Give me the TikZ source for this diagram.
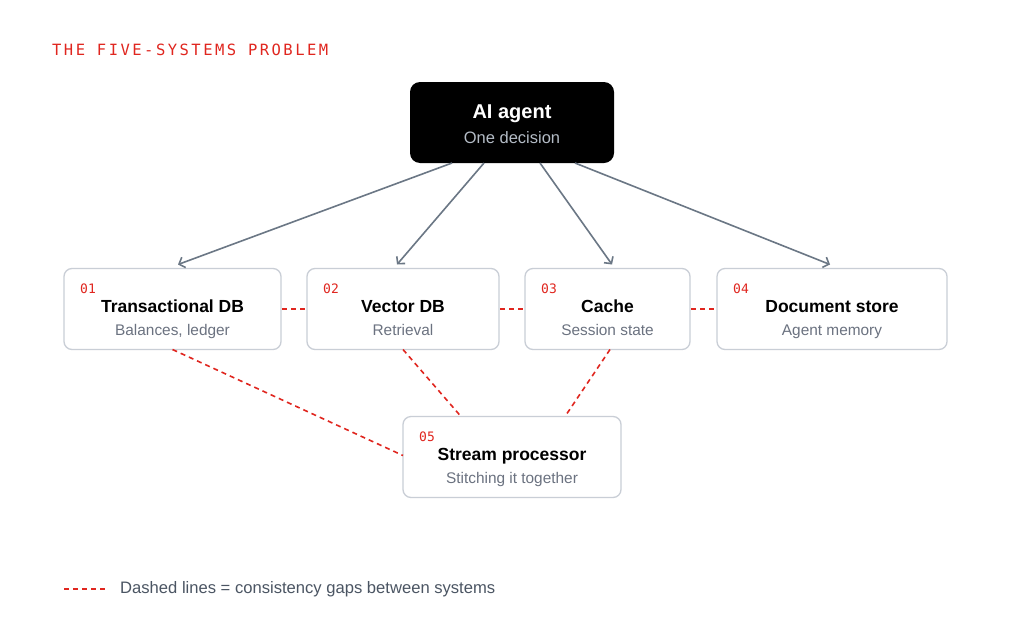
\documentclass[tikz,border=0pt]{standalone}
\usepackage{fontspec}
\setmainfont{Liberation Sans}
\newfontfamily\monofont{DejaVu Sans Mono}
\newfontfamily\titlemono[LetterSpace=16]{DejaVu Sans Mono}
\usetikzlibrary{arrows.meta,positioning}
\definecolor{gapred}{HTML}{E0261F}
\definecolor{muted}{HTML}{6B7280}
\definecolor{edge}{HTML}{C9CED6}
\definecolor{arrowgray}{HTML}{6B7785}
\definecolor{legendtxt}{HTML}{4B5563}
\definecolor{agenttxt}{HTML}{B4BCC6}

\begin{document}
\begin{tikzpicture}[
		x=1pt, y=1pt,
		node distance=26pt,
		sysbox/.style={rectangle, rounded corners=8pt, draw=edge, line width=1.3pt,
				fill=white, minimum height=81pt, inner sep=0pt, outer sep=0pt},
		agentbox/.style={rectangle, rounded corners=10pt, fill=black,
				minimum width=204pt, minimum height=81pt, inner sep=0pt, outer sep=0pt},
		ttl/.style={anchor=base, inner sep=0pt, font=\fontsize{17.5}{17.5}\selectfont\bfseries},
		subttl/.style={anchor=base, inner sep=0pt, text=muted, font=\fontsize{15.4}{15.4}\selectfont},
		numlbl/.style={anchor=west, inner sep=0pt, text=gapred,
				font=\monofont\fontsize{13}{13}\selectfont},
		arr/.style={-{Straight Barb[length=5pt, width=11pt]}, line width=1.6pt, arrowgray},
		gap/.style={gapred, line width=1.6pt, dash pattern=on 5pt off 4pt},
		]

		\useasboundingbox[fill=white] (0,0) rectangle (1024,-640);

		\node[anchor=west, inner sep=0pt, text=gapred,
			font=\titlemono\fontsize{15.5}{15.5}\selectfont] (title) at (52,-50) {THE FIVE-SYSTEMS PROBLEM};

		% agent
		\node[agentbox] (agent) at (512,-122.5) {};
		\node[ttl, text=white, font=\fontsize{20}{20}\selectfont\bfseries] (agent-t)
		at ([yshift=4.5pt]agent.center) {AI agent};
		\node[subttl, text=agenttxt, font=\fontsize{16.5}{16.5}\selectfont] (agent-s)
		at ([yshift=-20.5pt]agent.center) {One decision};

		% the four systems
		\node[sysbox, minimum width=217pt] (txdb) at (172.5,-309) {};
		\node[sysbox, minimum width=192pt, right=of txdb] (vecdb) {};
		\node[sysbox, minimum width=165pt, right=of vecdb] (cache) {};
		\node[sysbox, minimum width=230pt, right=27pt of cache] (docs) {};
		\node[sysbox, minimum width=218pt] (stream) at (512,-457) {};

		\node[ttl] (txdb-t) at ([yshift=-3.3pt]txdb.center) {Transactional DB};
		\node[subttl] (txdb-s) at ([yshift=-26.5pt]txdb.center) {Balances, ledger};
		\node[ttl] (vecdb-t) at ([yshift=-3.3pt]vecdb.center) {Vector DB};
		\node[subttl] (vecdb-s) at ([yshift=-26.5pt]vecdb.center) {Retrieval};
		\node[ttl] (cache-t) at ([yshift=-3.3pt]cache.center) {Cache};
		\node[subttl] (cache-s) at ([yshift=-26.5pt]cache.center) {Session state};
		\node[ttl] (docs-t) at ([yshift=-3.3pt]docs.center) {Document store};
		\node[subttl] (docs-s) at ([yshift=-26.5pt]docs.center) {Agent memory};
		\node[ttl] (stream-t) at ([yshift=-3.3pt]stream.center) {Stream processor};
		\node[subttl] (stream-s) at ([yshift=-26.5pt]stream.center) {Stitching it together};

		\node[numlbl] (n1) at ([xshift=16pt,yshift=-20pt]txdb.north west) {01};
		\node[numlbl] (n2) at ([xshift=16pt,yshift=-20pt]vecdb.north west) {02};
		\node[numlbl] (n3) at ([xshift=16pt,yshift=-20pt]cache.north west) {03};
		\node[numlbl] (n4) at ([xshift=16pt,yshift=-20pt]docs.north west) {04};
		\node[numlbl] (n5) at ([xshift=16pt,yshift=-20pt]stream.north west) {05};

		\draw[arr] ([xshift=-60pt]agent.south) -- ([xshift=5.5pt,yshift=4pt]txdb.north);
		\draw[arr] ([xshift=-28pt]agent.south) -- ([xshift=-6pt,yshift=4pt]vecdb.north);
		\draw[arr] ([xshift=28pt]agent.south)  -- ([xshift=4.5pt,yshift=4pt]cache.north);
		\draw[arr] ([xshift=63pt]agent.south)  -- ([xshift=-2pt,yshift=4pt]docs.north);

		% consistency gaps
		\draw[gap] ([xshift=1pt]txdb.east)  -- (vecdb.west);
		\draw[gap] ([xshift=1pt]vecdb.east) -- (cache.west);
		\draw[gap] ([xshift=1pt]cache.east) -- (docs.west);
		\draw[gap] (txdb.south) -- ([yshift=1.5pt]stream.west);
		\draw[gap] (vecdb.south) -- ([xshift=-51pt]stream.north);
		\draw[gap] ([xshift=2.5pt]cache.south) -- ([xshift=53pt]stream.north);

		\coordinate (legA) at (64,-589);
		\coordinate (legB) at (106,-589);
		\draw[gap] (legA) -- (legB);
		\node[anchor=west, inner sep=0pt, text=legendtxt,
			font=\fontsize{16.6}{16.6}\selectfont] (legend) at (120,-589)
		{Dashed lines = consistency gaps between systems};

	\end{tikzpicture}
\end{document}
